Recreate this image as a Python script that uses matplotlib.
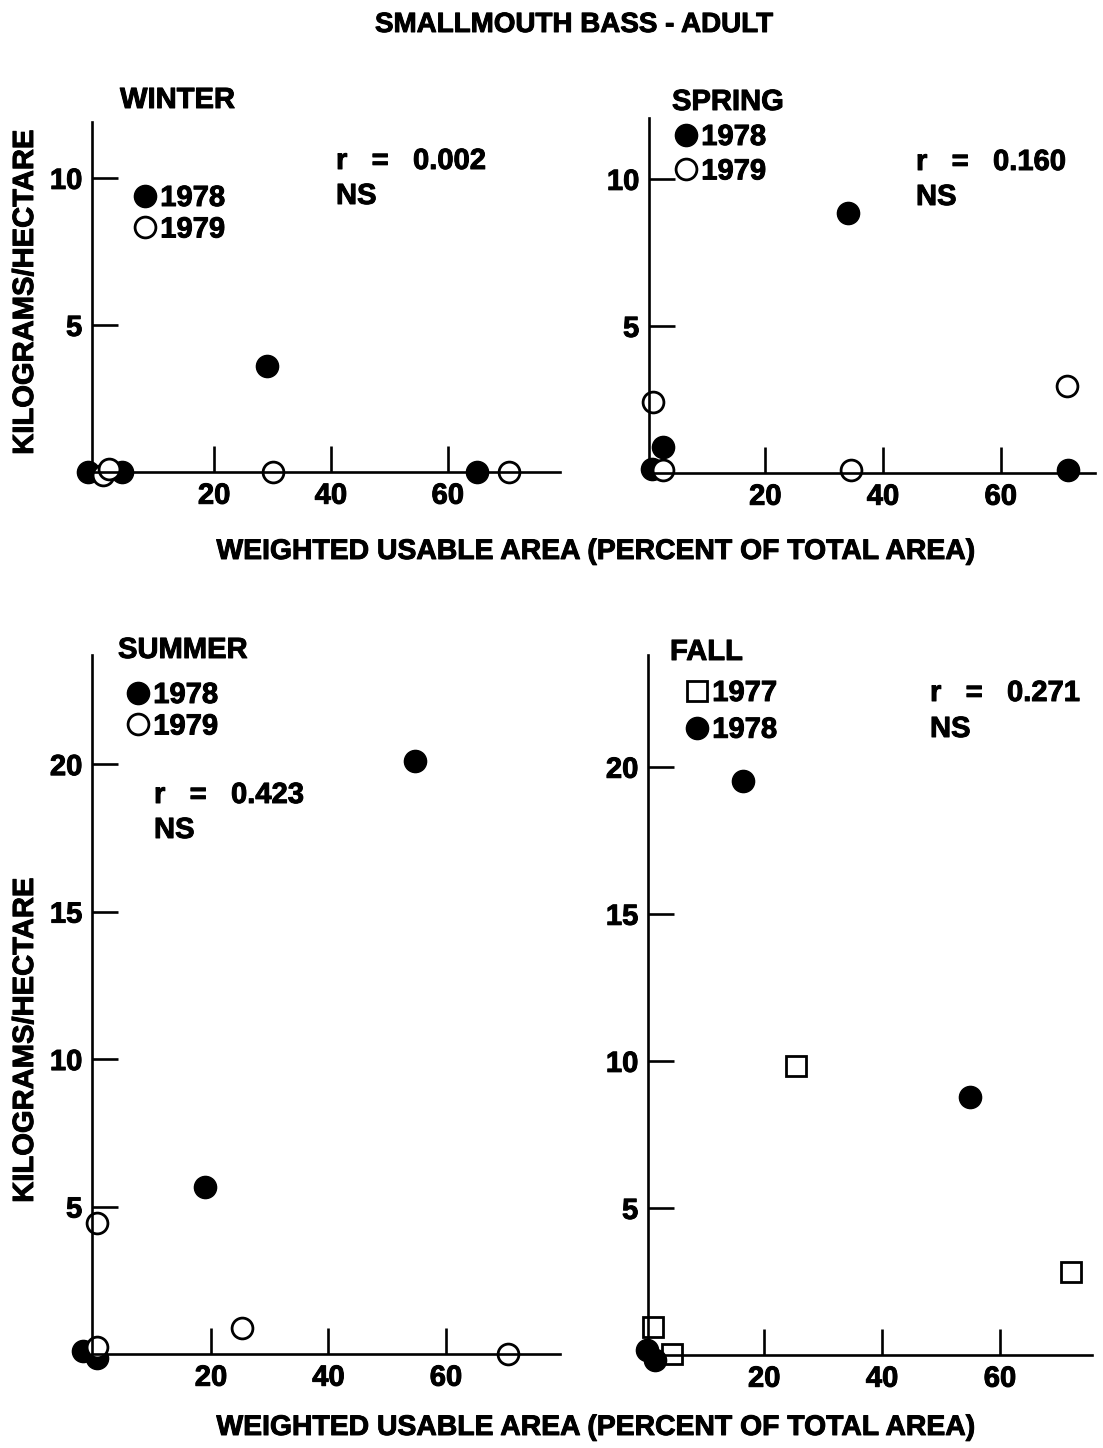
import matplotlib
matplotlib.use('Agg')
import matplotlib.pyplot as plt
import matplotlib.patheffects as pe

W, H = 1103, 1448

# data (x = percent of total area, y = kg/ha)
winter_78_x = [-1.5, 4.3, 29.0, 65.0]
winter_78_y = [0.0, 0.0, 3.6, 0.0]
winter_79_x = [0.9, 2.0, 30.0, 70.5]
winter_79_y = [-0.1, 0.1, 0.0, 0.0]

spring_78_x = [0.7, 2.6, 34.0, 71.4]
spring_78_y = [0.15, 0.9, 8.85, 0.1]
spring_79_x = [0.9, 2.6, 34.5, 71.3]
spring_79_y = [2.4, 0.1, 0.1, 2.96]

summer_78_x = [-1.8, 0.6, 19.0, 54.7]
summer_78_y = [0.1, -0.15, 5.67, 20.1]
summer_79_x = [0.6, 0.6, 25.3, 70.5]
summer_79_y = [4.45, 0.25, 0.88, 0.0]

fall_77_x = [1.2, 4.4, 25.4, 72.0]
fall_77_y = [0.95, 0.03, 9.83, 2.82]
fall_78_x = [0.2, 1.5, 16.4, 54.9]
fall_78_y = [0.17, -0.17, 19.5, 8.78]

x_ticks = [20, 40, 60]
y_ticks_top = [5, 10]
y_ticks_bottom = [5, 10, 15, 20]

r_labels = ['r   =   0.002', 'r   =   0.160', 'r   =   0.423', 'r   =   0.271']

plt.rcParams['font.family'] = ['Liberation Sans', 'DejaVu Sans']
plt.rcParams['font.weight'] = 'bold'

# slight stroke so the type looks as heavy as the printed original
ink = [pe.withStroke(linewidth=0.7, foreground='black')]

fig = plt.figure(figsize=(W / 100, H / 100), dpi=100)


def box(left, top, right, bottom):
    return [left / W, (H - bottom) / H, (right - left) / W, (bottom - top) / H]


def panel(rect, xlim, ylim, yticks):
    ax = fig.add_axes(rect)
    ax.set_xlim(*xlim)
    ax.set_ylim(*ylim)
    for s in ['top', 'right']:
        ax.spines[s].set_visible(False)
    for s in ['left', 'bottom']:
        ax.spines[s].set_linewidth(1.9)
    ax.set_xticks(x_ticks)
    ax.set_yticks(yticks)
    ax.tick_params(direction='in', length=19, width=1.9, labelsize=21, pad=7)
    for lab in ax.get_xticklabels() + ax.get_yticklabels():
        lab.set_path_effects(ink)
    ax.patch.set_alpha(0)
    return ax


def text(px, py, s, size=21, **kw):
    fig.text(px / W, 1 - py / H, s, fontsize=size, fontweight='bold', va='center',
             path_effects=ink, **kw)


filled = dict(marker='o', ms=16, mfc='black', mec='black', ls='none', clip_on=False)
opened = dict(marker='o', ms=15, mfc='white', mec='black', mew=2.0, ls='none', clip_on=False)
square = dict(marker='s', ms=14, mfc='white', mec='black', mew=2.0, ls='none', clip_on=False)


def legend(ax, handles, labels, left, top, spacing):
    leg = ax.legend(handles, labels, loc='upper left', bbox_to_anchor=(left / W, 1 - top / H),
                    bbox_transform=fig.transFigure, frameon=False, fontsize=21,
                    handlelength=0.75, handletextpad=0.15, borderpad=0, borderaxespad=0,
                    labelspacing=spacing, numpoints=1)
    for t in leg.get_texts():
        t.set_path_effects(ink)


# WINTER
ax = panel(box(92, 122, 560, 472), (-0.9, 79.2), (0, 11.9), y_ticks_top)
a, = ax.plot(winter_78_x, winter_78_y, **filled)
b, = ax.plot(winter_79_x, winter_79_y, **opened)
legend(ax, [a, b], ['1978', '1979'], 134, 184, 0.12)
text(120, 100, 'WINTER')
text(336, 161, r_labels[0])
text(336, 196, 'NS')

# SPRING
ax = panel(box(649, 118, 1095, 473), (0.25, 76.0), (0, 12.07), y_ticks_top)
a, = ax.plot(spring_78_x, spring_78_y, **filled)
b, = ax.plot(spring_79_x, spring_79_y, **opened)
legend(ax, [a, b], ['1978', '1979'], 675, 123, 0.22)
text(672, 102, 'SPRING')
text(916, 162, r_labels[1])
text(916, 197, 'NS')

# SUMMER
ax = panel(box(92, 655, 560, 1354), (-0.25, 79.4), (0, 23.7), y_ticks_bottom)
a, = ax.plot(summer_78_x, summer_78_y, **filled)
b, = ax.plot(summer_79_x, summer_79_y, **opened)
legend(ax, [a, b], ['1978', '1979'], 127, 681, 0.12)
text(118, 650, 'SUMMER')
text(154, 795, r_labels[2])
text(154, 830, 'NS')

# FALL
ax = panel(box(648, 655, 1092, 1355), (0.3, 75.6), (0, 23.8), y_ticks_bottom)
a, = ax.plot(fall_77_x, fall_77_y, **square)
b, = ax.plot(fall_78_x, fall_78_y, **filled)
legend(ax, [a, b], ['1977', '1978'], 686, 679, 0.3)
text(670, 652, 'FALL')
text(930, 693, r_labels[3])
text(930, 729, 'NS')

# shared labels
text(574, 25, 'SMALLMOUTH BASS - ADULT', 20, ha='center')
text(596, 552, 'WEIGHTED USABLE AREA (PERCENT OF TOTAL AREA)', 20.4, ha='center')
text(596, 1428, 'WEIGHTED USABLE AREA (PERCENT OF TOTAL AREA)', 20.4, ha='center')
text(25, 292, 'KILOGRAMS/HECTARE', 21, rotation=90, ha='center')
text(25, 1040, 'KILOGRAMS/HECTARE', 21, rotation=90, ha='center')

fig.savefig('out.png', dpi=100, facecolor='white')
